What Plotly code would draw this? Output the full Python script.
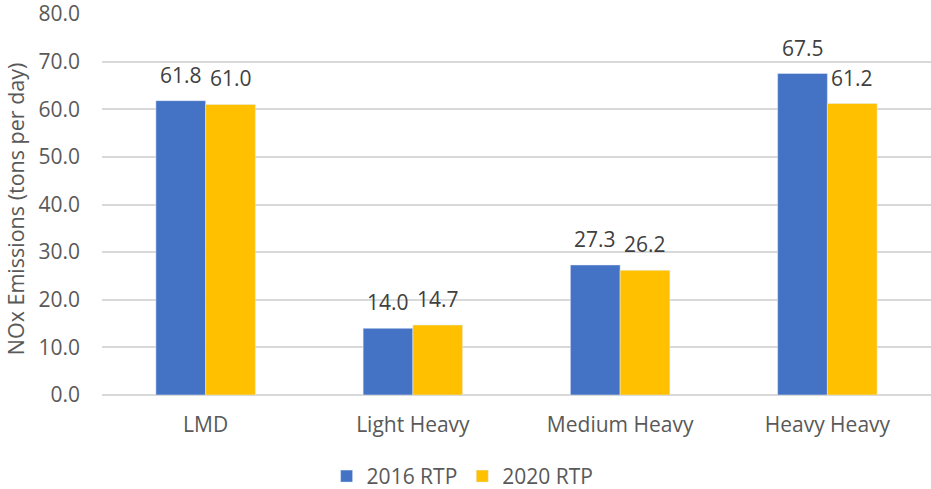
import plotly.graph_objects as go

categories = ["LMD", "Light Heavy", "Medium Heavy", "Heavy Heavy"]
rtp_2016 = [61.8, 14.0, 27.3, 67.5]
rtp_2020 = [61.0, 14.7, 26.2, 61.2]
y_ticks = [0, 10, 20, 30, 40, 50, 60, 70, 80]

FONT = "Open Sans, Liberation Sans, sans-serif"
BAR_GAP = 0.52
# offset of each bar centre within its category (two bars per group)
half = (1 - BAR_GAP) / 4

fig = go.Figure()
fig.add_trace(go.Bar(x=categories, y=rtp_2016, name="2016 RTP", marker_color="#4472C4"))
fig.add_trace(go.Bar(x=categories, y=rtp_2020, name="2020 RTP", marker_color="#FFC000"))

# value labels above the bars
for series, shift in ((rtp_2016, -half), (rtp_2020, half)):
    for i, v in enumerate(series):
        fig.add_annotation(
            x=i + shift,
            y=v,
            xref="x",
            yref="y",
            text=f"{v:.1f}",
            showarrow=False,
            yanchor="bottom",
            yshift=10,
            font=dict(size=21, color="#404040"),
        )

# y axis title, placed by hand to sit close to the page edge
fig.add_annotation(
    text="NOx Emissions (tons per day)",
    xref="paper",
    yref="paper",
    x=-0.105,
    y=0.49,
    xanchor="center",
    yanchor="middle",
    textangle=-90,
    showarrow=False,
    font=dict(size=21.5, color="#595959"),
)

fig.update_layout(
    width=931,
    height=489,
    margin=dict(l=102, r=0, t=14, b=94, autoexpand=False),
    paper_bgcolor="white",
    plot_bgcolor="white",
    font=dict(family=FONT, size=21, color="#595959"),
    barmode="group",
    bargap=BAR_GAP,
    bargroupgap=0,
    yaxis=dict(
        range=[0, 80],
        tickvals=y_ticks,
        ticktext=[f"{v:.1f}" for v in y_ticks],
        showgrid=True,
        gridcolor="#D9D9D9",
        gridwidth=1.5,
        zeroline=True,
        zerolinecolor="#D9D9D9",
        zerolinewidth=1.5,
        ticks="",
        automargin=False,
        ticklabeloverflow="allow",
        ticklabelstandoff=21,
    ),
    xaxis=dict(showline=False, ticks="", automargin=False, ticklabelstandoff=15),
    legend=dict(
        orientation="h",
        x=0.435,
        xanchor="center",
        y=-0.16,
        yanchor="top",
        font=dict(size=21),
        itemwidth=30,
    ),
    showlegend=True,
)
# drop the browser's default body margin so the figure fills the window
fig.write_html(
    "out.html",
    config={"displayModeBar": False},
    post_script="document.body.style.margin = '0';",
)
